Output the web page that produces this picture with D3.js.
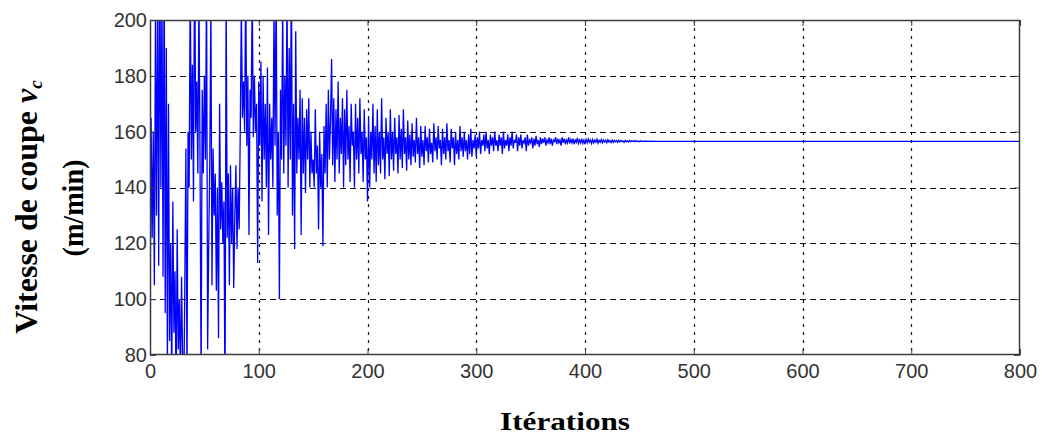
<!DOCTYPE html>
<html><head><meta charset="utf-8">
<script src="https://cdn.jsdelivr.net/npm/d3@7"></script>
<style>html,body{margin:0;padding:0;background:#fff;}svg{display:block;}</style>
</head><body>
<script>
// ---- data ----
const xTicks = [0,100,200,300,400,500,600,700,800];
const yTicks = [80,100,120,140,160,180,200];
const xDomain = [0,800];
const yDomain = [80,200];
// cutting speed per iteration (0..469)
const vc = [
 88,165,122,160,105,200,130,215,112,230,
 140,210,108,225,95,190,75,170,85,120,
 70,135,88,110,65,125,82,100,70,108,
 80,60,105,154,70,160,140,215,150,184,
 135,230,160,178,145,210,150,70,175,145,
 180,150,215,82,120,150,205,105,154,130,
 145,103,140,86,170,125,142,120,135,60,
 210,122,145,105,148,120,140,104,130,148,
 118,140,125,160,205,165,178,160,215,155,
 180,123,175,165,210,158,180,160,170,113,
 178,155,185,135,180,150,170,140,183,123,
 170,150,165,140,205,155,215,130,160,100,
 175,150,205,145,180,155,210,140,190,150,
 220,130,170,118,196,145,165,150,175,123,
 172,145,165,138,168,150,172,140,160,145,
 150,140,168,145,155,125,160,140,152,119,
 162,145,170,140,175,150,165,186,148,172,
 142,168,150,178,145,165,152,172,140,168,
 148,175,150,162,142,170,155,160,140,170,
 150,165,145,172,152,160,142,168,150,158,
 135,165,140,160,150,170,145,162,142,168,
 148,160,145,172,150,158,143,165,152,160,
 144,168,150,160,146,165,152,158,145,166,
 150,161,147,168,152,158,146,164,150,159,
 148,163,151,157,149,165,152,158,147,162,
 151,157,148,162,153,158,149,161,152,156,
 149,163,153,158,150,162,154,157,148,161,
 152,158,150,163,153,157,149,161,154,158,
 148,160,152,157,150,162,153,158,151,160,
 153,157,150,159,152,161,151,157,154,159,
 151,158,154,160,152,157,155,159,153,160,
 154,157,152,159,155,158,153,160,155,157,
 153,159,155,158,152,160,154,157,155,159,
 153,158,155,160,154,157,156,159,153,158,
 155,159,154,157,156,158,153,159,155,157,
 156,158,154,157.5,155,158.5,155.5,157,154.5,158,
 155.5,157.5,156,158,155,157,156,158,155.5,157.5,
 155,157,156.5,158,155.5,157.5,156,157,155,158,
 156,157.5,155.5,157,156,158,155.8,157.2,156,157.5,
 155.5,157,156.2,157.8,155.8,157,156,157.5,155.8,157,
 155.5,157.2,156,157.4,156.2,157,155.8,157.2,156,157,
 156.2,157.3,155.9,156.9,156.2,157.2,156,157,156.3,156.9,
 156,157.1,156.3,156.8,156.1,157,156.2,156.9,156.4,156.8,
 156.2,156.9,156.3,156.8,156.4,156.7,156.2,156.9,156.4,156.7,
 156.3,156.8,156.4,156.7,156.5,156.8,156.4,156.7,156.5,156.6,
 156.4,156.7,156.5,156.6,156.5,156.7,156.5,156.6,156.5,156.6,
 156.5,156.6,156.5,156.6,156.5,156.5,156.5,156.5,156.5,156.5
];
const finalIter = 800;
const finalValue = 156.5;

// ---- layout ----
const W = 1042, H = 440;
const plot = {left:150, right:1020, top:20, bottom:355};

const svg = d3.select("body").append("svg").attr("width",W).attr("height",H);

const x = d3.scaleLinear().domain(xDomain).range([plot.left, plot.right]);
const y = d3.scaleLinear().domain(yDomain).range([plot.bottom, plot.top]);

svg.append("defs").append("clipPath").attr("id","clip")
  .append("rect").attr("x",plot.left).attr("y",plot.top)
  .attr("width",plot.right-plot.left).attr("height",plot.bottom-plot.top);

// grid
const grid = svg.append("g");
grid.selectAll("line.h").data(yTicks.filter(d=>d>yDomain[0]&&d<yDomain[1])).join("line")
  .attr("x1",plot.left).attr("x2",plot.right)
  .attr("y1",d=>Math.round(y(d))+0.5).attr("y2",d=>Math.round(y(d))+0.5)
  .attr("stroke","#111").attr("stroke-width",1.2).attr("stroke-dasharray","6,4");
grid.selectAll("line.v").data(xTicks.filter(d=>d>xDomain[0]&&d<xDomain[1])).join("line")
  .attr("y1",plot.top).attr("y2",plot.bottom)
  .attr("x1",d=>Math.round(x(d))+0.5).attr("x2",d=>Math.round(x(d))+0.5)
  .attr("stroke","#111").attr("stroke-width",1.2).attr("stroke-dasharray","3,5");

// series
const pts = vc.map((v,i)=>[i,v]);
pts.push([finalIter, finalValue]);
svg.append("path").datum(pts)
  .attr("clip-path","url(#clip)")
  .attr("fill","none").attr("stroke","#0000ff").attr("stroke-width",1.3)
  .attr("d", d3.line().x(d=>x(d[0])).y(d=>y(d[1])));

// axes (MATLAB style: ticks inward, box)
const fontAx = "'Liberation Sans', Arial, sans-serif";
const xAxis = d3.axisBottom(x).tickValues(xTicks).tickSize(-6).tickPadding(9).tickFormat(d3.format("d"));
const yAxis = d3.axisLeft(y).tickValues(yTicks).tickSize(-6).tickPadding(3).tickFormat(d3.format("d"));
const gx = svg.append("g").attr("transform",`translate(0,${plot.bottom})`).call(xAxis);
const gy = svg.append("g").attr("transform",`translate(${plot.left},0)`).call(yAxis);
[gx,gy].forEach(g=>{
  g.select(".domain").remove();
  g.selectAll(".tick line").attr("stroke","#444");
  g.selectAll(".tick text").attr("fill","#333").style("font-family",fontAx).style("font-size","20px");
});
// top/right ticks
svg.append("g").attr("transform",`translate(0,${plot.top})`)
  .call(d3.axisTop(x).tickValues(xTicks).tickSize(-6).tickFormat(""))
  .call(g=>{g.select(".domain").remove();g.selectAll(".tick line").attr("stroke","#444");});
svg.append("g").attr("transform",`translate(${plot.right},0)`)
  .call(d3.axisRight(y).tickValues(yTicks).tickSize(-6).tickFormat(""))
  .call(g=>{g.select(".domain").remove();g.selectAll(".tick line").attr("stroke","#444");});

// box
svg.append("rect").attr("x",plot.left+0.5).attr("y",plot.top+0.5)
  .attr("width",plot.right-plot.left-1).attr("height",plot.bottom-plot.top-1)
  .attr("fill","none").attr("stroke","#3c3c3c").attr("stroke-width",1.5);

// titles
const serif = "'Liberation Serif','Times New Roman',serif";
svg.append("text").attr("x",565).attr("y",430).attr("text-anchor","middle")
  .style("font-family",serif).style("font-weight","bold").style("font-size","25px")
  .attr("textLength",130).attr("lengthAdjust","spacingAndGlyphs")
  .text("Itérations");

const t1 = svg.append("text").attr("transform","translate(37,207) rotate(-90)")
  .attr("text-anchor","middle")
  .style("font-family",serif).style("font-weight","bold").style("font-size","32px");
t1.append("tspan").text("Vitesse de coupe ");
t1.append("tspan").style("font-style","italic").text("v");
t1.append("tspan").style("font-style","italic").style("font-size","19px").attr("dy",5).text("c");

svg.append("text").attr("transform","translate(83,208) rotate(-90)")
  .attr("text-anchor","middle")
  .style("font-family",serif).style("font-weight","bold").style("font-size","30px")
  .attr("textLength",97).attr("lengthAdjust","spacingAndGlyphs")
  .text("(m/min)");
</script>
</body></html>
